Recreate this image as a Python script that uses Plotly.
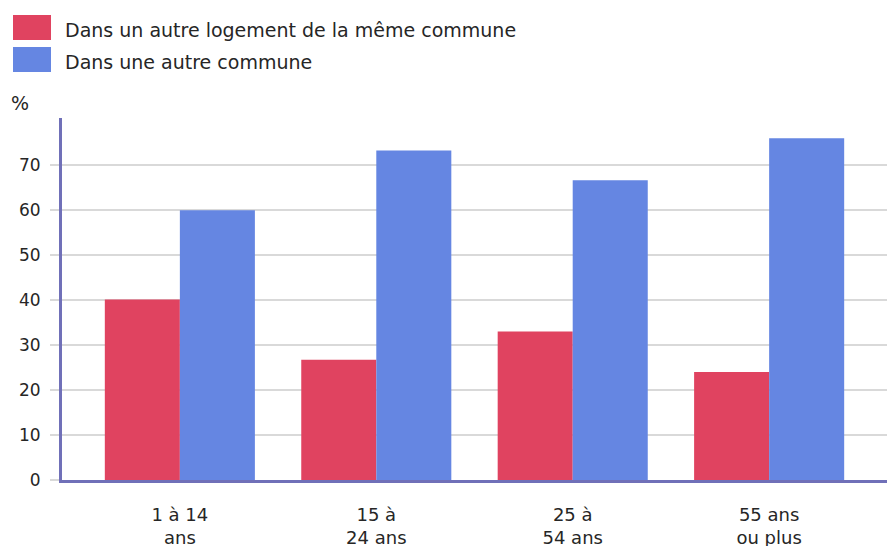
import plotly.graph_objects as go

categories = ["1 à 14<br>ans", "15 à<br>24 ans", "25 à<br>54 ans", "55 ans<br>ou plus"]
series_names = ["Dans un autre logement de la même commune", "Dans une autre commune"]
same_commune = [40.1, 26.7, 33.0, 24.0]
other_commune = [59.9, 73.2, 66.6, 75.9]
series_values = [same_commune, other_commune]
series_colors = ["rgb(224,67,96)", "rgb(101,134,226)"]
y_ticks = [0, 10, 20, 30, 40, 50, 60, 70]

FONT = "DejaVu Sans"
TXT = "#262626"

fig = go.Figure()
for name, vals, col in zip(series_names, series_values, series_colors):
    fig.add_trace(go.Bar(x=categories, y=vals, name=name,
                         marker=dict(color=col, line=dict(width=0)),
                         showlegend=False))

# custom legend (positions in page pixels, converted to paper coords)
for i, (name, col) in enumerate(zip(series_names, series_colors)):
    y0 = 15 + i * 32
    fig.add_shape(type="rect", xref="paper", yref="paper",
                  x0=(13 - 62) / 825, x1=(51 - 62) / 825,
                  y0=(480 - (y0 + 25)) / 362, y1=(480 - y0) / 362,
                  fillcolor=col, line=dict(width=0), layer="above")
    fig.add_annotation(x=(63 - 62) / 825, y=(480 - (y0 + 15)) / 362,
                       xref="paper", yref="paper", text=name, showarrow=False,
                       xanchor="left", yanchor="middle",
                       font=dict(family=FONT, size=19, color=TXT))

fig.add_annotation(x=(9 - 62) / 825, y=(480 - 103) / 362, xref="paper", yref="paper",
                   text="%", showarrow=False, xanchor="left", yanchor="middle",
                   font=dict(family=FONT, size=19, color=TXT))

fig.update_layout(
    template="none",
    width=887, height=546,
    margin=dict(l=62, r=0, t=118, b=66, autoexpand=False),
    paper_bgcolor="white", plot_bgcolor="white",
    barmode="group", bargap=0.236, bargroupgap=0,
    font=dict(family=FONT, color=TXT),
    showlegend=False,
    xaxis=dict(range=[-0.6, 3.6], showline=True, linecolor="rgb(112,112,184)", linewidth=3,
               ticks="outside", ticklen=16, tickcolor="rgba(0,0,0,0)",
               tickfont=dict(family=FONT, size=18, color=TXT), showgrid=False,
               zeroline=False, automargin=False),
    yaxis=dict(range=[0, 80.4], tickvals=y_ticks, showline=True,
               linecolor="rgb(112,112,184)", linewidth=3,
               showgrid=True, gridcolor="rgb(217,217,217)", gridwidth=2,
               ticks="outside", ticklen=9, tickcolor="rgb(217,217,217)", tickwidth=2,
               ticklabelstandoff=6, automargin=False,
               tickfont=dict(family=FONT, size=17, color=TXT), zeroline=False),
)

fig.write_html("out.html", config={"displayModeBar": False},
               post_script="document.body.style.margin='0';document.body.style.overflow='hidden';")
